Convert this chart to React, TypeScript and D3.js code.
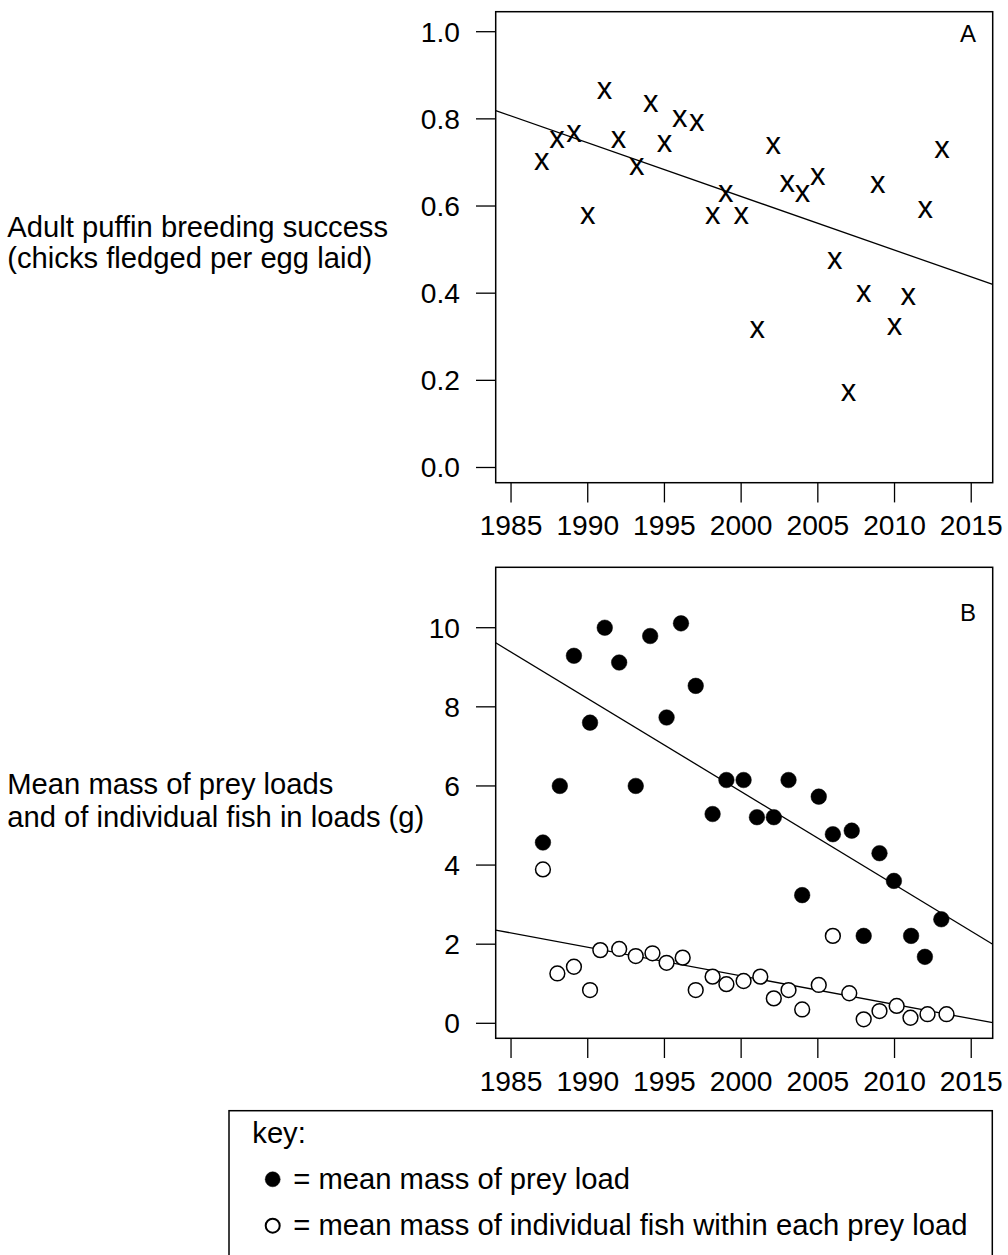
import React from "react";
import * as d3 from "d3";

// ---------- data ----------
const yearTicks = [1985, 1990, 1995, 2000, 2005, 2010, 2015];
const successTicks = [0.0, 0.2, 0.4, 0.6, 0.8, 1.0];
const massTicks = [0, 2, 4, 6, 8, 10];

// Panel A: adult puffin breeding success
const yearsA = [1987, 1988, 1989.1, 1990, 1991.1, 1992, 1993.2, 1994.1, 1995, 1996, 1997.1, 1998.15, 1999, 2000, 2001.05, 2002.1, 2003, 2004, 2005, 2006.1, 2007, 2008, 2008.9, 2010, 2010.9, 2012, 2013.1];
const successA = [0.702, 0.751, 0.765, 0.576, 0.865, 0.751, 0.689, 0.833, 0.743, 0.8, 0.791, 0.576, 0.628, 0.576, 0.315, 0.738, 0.651, 0.628, 0.667, 0.473, 0.172, 0.399, 0.649, 0.322, 0.391, 0.59, 0.728];
const trendA = [
  [1984, 0.819],
  [2016.4, 0.42],
];

// Panel B: mean mass of prey loads (filled) and individual fish (open)
const yearsLoad = [1987.08, 1988.18, 1989.1, 1990.15, 1991.11, 1992.05, 1993.13, 1994.07, 1995.14, 1996.08, 1997.04, 1998.14, 1999.04, 2000.16, 2001.03, 2002.13, 2003.09, 2003.98, 2005.06, 2005.98, 2007.21, 2007.99, 2009.02, 2009.96, 2011.08, 2011.98, 2013.05];
const massLoad = [4.57, 6.0, 9.29, 7.6, 10.0, 9.12, 6.0, 9.79, 7.73, 10.11, 8.53, 5.29, 6.15, 6.15, 5.21, 5.21, 6.15, 3.24, 5.73, 4.78, 4.87, 2.21, 4.3, 3.6, 2.21, 1.68, 2.63];
const yearsFish = [1987.08, 1988.02, 1989.1, 1990.15, 1990.82, 1992.05, 1993.13, 1994.22, 1995.14, 1996.19, 1997.04, 1998.14, 1999.04, 2000.16, 2001.25, 2002.13, 2003.09, 2003.98, 2005.06, 2005.98, 2007.05, 2007.99, 2009.02, 2010.14, 2011.04, 2012.15, 2013.39];
const massFish = [3.89, 1.26, 1.43, 0.84, 1.85, 1.88, 1.7, 1.77, 1.53, 1.66, 0.84, 1.18, 0.99, 1.07, 1.18, 0.63, 0.84, 0.35, 0.97, 2.21, 0.76, 0.1, 0.31, 0.44, 0.14, 0.23, 0.23];
const trendLoad = [
  [1984, 9.62],
  [2016.4, 2.0],
];
const trendFish = [
  [1984, 2.356],
  [2016.4, 0.015],
];

const legendTitle = "key:";
const legendItems = [
  { filled: true, label: "= mean mass of prey load" },
  { filled: false, label: "= mean mass of individual fish within each prey load" },
];

// ---------- layout ----------
const W = 1008;
const H = 1255;
const FONT = "'Liberation Sans', Arial, Helvetica, sans-serif";
const TEXT_SIZE = 29.2;
const boxL = 495.7;
const boxR = 992.7;
const boxA = { top: 11.7, bottom: 482.7 };
const boxB = { top: 567.3, bottom: 1038.3 };

const x = d3.scaleLinear().domain([1984, 2016.4]).range([boxL, boxR]);
const yA = d3.scaleLinear().domain([-0.0349, 1.0459]).range([boxA.bottom, boxA.top]);
const yB = d3.scaleLinear().domain([-0.379, 11.527]).range([boxB.bottom, boxB.top]);

const TICK = 19.7;

function XAxis({ bottom }: { bottom: number }) {
  return (
    <g>
      {yearTicks.map((t) => (
        <g key={t}>
          <line x1={x(t)} x2={x(t)} y1={bottom} y2={bottom + TICK} stroke="#000" strokeWidth={1.3} />
          <text x={x(t)} y={bottom + 52.3} textAnchor="middle" fontSize={28.2} fontFamily={FONT} fill="#000">
            {t}
          </text>
        </g>
      ))}
    </g>
  );
}

function YAxis({ scale, ticks, fmt }: { scale: d3.ScaleLinear<number, number>; ticks: number[]; fmt: (v: number) => string }) {
  return (
    <g>
      {ticks.map((t) => (
        <g key={t}>
          <line x1={boxL - TICK} x2={boxL} y1={scale(t)} y2={scale(t)} stroke="#000" strokeWidth={1.3} />
          <text x={460} y={scale(t) + 10} textAnchor="end" fontSize={28.2} fontFamily={FONT} fill="#000">
            {fmt(t)}
          </text>
        </g>
      ))}
    </g>
  );
}

export default function App() {
  const lineA = d3
    .line<number[]>()
    .x((d) => x(d[0]))
    .y((d) => yA(d[1]));
  const lineB = d3
    .line<number[]>()
    .x((d) => x(d[0]))
    .y((d) => yB(d[1]));
  const fmtA = d3.format(".1f");
  const fmtB = d3.format("d");

  return (
    <svg
      width={W}
      height={H}
      viewBox={`0 0 ${W} ${H}`}
      style={{ position: "absolute", left: 0, top: 0, display: "block", background: "#fff" }}
    >
      <rect x={0} y={0} width={W} height={H} fill="#fff" />

      {/* ---------- Panel A ---------- */}
      <text fontSize={TEXT_SIZE} fontFamily={FONT} fill="#000">
        <tspan x={7.3} y={236.7}>Adult puffin breeding success</tspan>
        <tspan x={7.3} y={268.3}>(chicks fledged per egg laid)</tspan>
      </text>
      <path d={lineA(trendA) || ""} stroke="#000" strokeWidth={1.3} fill="none" />
      {yearsA.map((yr, i) => (
        <text
          key={i}
          x={x(yr)}
          y={yA(successA[i]) + 8}
          textAnchor="middle"
          fontSize={31}
          fontFamily={FONT}
          fill="#000"
        >
          x
        </text>
      ))}
      <rect x={boxL} y={boxA.top} width={boxR - boxL} height={boxA.bottom - boxA.top} fill="none" stroke="#000" strokeWidth={1.5} />
      <text x={976} y={41.7} textAnchor="end" fontSize={24} fontFamily={FONT} fill="#000">
        A
      </text>
      <YAxis scale={yA} ticks={successTicks} fmt={fmtA} />
      <XAxis bottom={boxA.bottom} />

      {/* ---------- Panel B ---------- */}
      <text fontSize={TEXT_SIZE} fontFamily={FONT} fill="#000">
        <tspan x={7.3} y={794.3}>Mean mass of prey loads</tspan>
        <tspan x={7.3} y={826.7}>and of individual fish in loads (g)</tspan>
      </text>
      <path d={lineB(trendLoad) || ""} stroke="#000" strokeWidth={1.3} fill="none" />
      <path d={lineB(trendFish) || ""} stroke="#000" strokeWidth={1.3} fill="none" />
      {yearsFish.map((yr, i) => (
        <circle key={"f" + i} cx={x(yr)} cy={yB(massFish[i])} r={7.4} fill="#fff" stroke="#000" strokeWidth={1.5} />
      ))}
      {yearsLoad.map((yr, i) => (
        <circle key={"l" + i} cx={x(yr)} cy={yB(massLoad[i])} r={7.8} fill="#000" stroke="#000" strokeWidth={0.5} />
      ))}
      <rect x={boxL} y={boxB.top} width={boxR - boxL} height={boxB.bottom - boxB.top} fill="none" stroke="#000" strokeWidth={1.5} />
      <text x={976} y={620.7} textAnchor="end" fontSize={24} fontFamily={FONT} fill="#000">
        B
      </text>
      <YAxis scale={yB} ticks={massTicks} fmt={fmtB} />
      <XAxis bottom={boxB.bottom} />

      {/* ---------- Legend ---------- */}
      <rect x={229} y={1110.7} width={992.3 - 229} height={160} fill="none" stroke="#000" strokeWidth={1.5} />
      <text x={252.3} y={1143.3} fontSize={TEXT_SIZE} fontFamily={FONT} fill="#000">
        {legendTitle}
      </text>
      {legendItems.map((it, i) => {
        const cy = 1179.3 + i * 46.4;
        return (
          <g key={i}>
            <circle
              cx={272.7}
              cy={cy}
              r={it.filled ? 7.5 : 7}
              fill={it.filled ? "#000" : "#fff"}
              stroke="#000"
              strokeWidth={it.filled ? 0.5 : 2}
            />
            <text x={293.3} y={cy + 9.2} fontSize={TEXT_SIZE} fontFamily={FONT} fill="#000">
              {it.label}
            </text>
          </g>
        );
      })}
    </svg>
  );
}
